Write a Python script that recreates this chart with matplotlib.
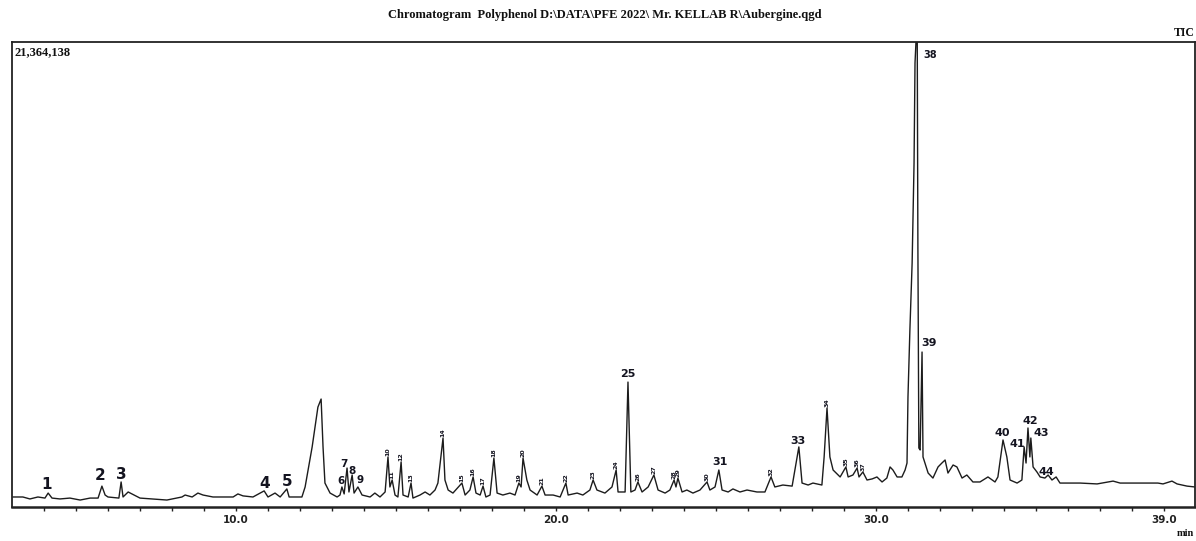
import numpy as np
import matplotlib.pyplot as plt

# TIC trace: retention time (min) and intensity (x 1e6 counts)
rt = [3.03, 3.34, 3.56, 3.81, 4.03, 4.13, 4.25, 4.50, 4.81, 5.13, 5.44, 5.69, 5.81, 5.91, 6.00,
      6.34, 6.41, 6.47, 6.63, 7.00, 7.84, 8.31, 8.41, 8.63, 8.81, 8.97, 9.28, 9.91, 10.06, 10.22,
      10.53, 10.88, 11.00, 11.22, 11.38, 11.59, 11.66, 12.06, 12.16, 12.38, 12.56, 12.66, 12.72,
      12.78, 12.94, 13.16, 13.25, 13.31, 13.38, 13.47, 13.53, 13.63, 13.69, 13.81, 13.94, 14.19,
      14.34, 14.50, 14.66, 14.75, 14.81, 14.88, 14.97, 15.06, 15.16, 15.22, 15.38, 15.47, 15.53,
      15.75, 15.91, 16.06, 16.22, 16.31, 16.47, 16.53, 16.63, 16.78, 17.06, 17.16, 17.31, 17.41,
      17.50, 17.63, 17.72, 17.81, 17.94, 18.06, 18.16, 18.34, 18.56, 18.72, 18.84, 18.91, 18.97,
      19.09, 19.19, 19.41, 19.56, 19.66, 19.91, 20.13, 20.31, 20.38, 20.66, 20.84, 21.06, 21.16,
      21.28, 21.53, 21.75, 21.88, 21.94, 22.16, 22.25, 22.34, 22.47, 22.56, 22.69, 22.88, 23.06,
      23.19, 23.41, 23.56, 23.69, 23.75, 23.81, 23.94, 24.09, 24.28, 24.50, 24.72, 24.81, 24.97,
      25.09, 25.19, 25.38, 25.53, 25.75, 25.97, 26.28, 26.53, 26.72, 26.84, 27.09, 27.38, 27.59,
      27.69, 27.88, 28.03, 28.31, 28.38, 28.47, 28.56, 28.66, 28.88, 29.06, 29.13, 29.28, 29.41,
      29.47, 29.59, 29.72, 29.88, 30.03, 30.19, 30.34, 30.44, 30.53, 30.66, 30.81, 30.91, 30.97,
      31.00, 31.06, 31.13, 31.19, 31.22, 31.25, 31.29, 31.31, 31.34, 31.38, 31.44, 31.47, 31.63,
      31.78, 31.94, 32.06, 32.16, 32.25, 32.41, 32.53, 32.69, 32.84, 33.03, 33.25, 33.50, 33.72,
      33.81, 33.97, 34.09, 34.19, 34.41, 34.56, 34.63, 34.69, 34.75, 34.81, 34.84, 34.91, 35.03,
      35.13, 35.28, 35.38, 35.50, 35.63, 35.75, 36.38, 36.91, 37.41, 37.63, 38.03, 38.47, 38.81,
      38.97, 39.25, 39.41, 39.72, 39.97]
intensity = [0.46, 0.46, 0.37, 0.46, 0.41, 0.64, 0.41, 0.37, 0.41, 0.32, 0.41, 0.41, 0.96, 0.55, 0.46,
             0.41, 1.15, 0.46, 0.69, 0.41, 0.32, 0.46, 0.55, 0.46, 0.64, 0.55, 0.46, 0.46, 0.60, 0.51,
             0.46, 0.74, 0.46, 0.64, 0.46, 0.83, 0.46, 0.46, 0.92, 2.76, 4.59, 4.96, 2.76,
             1.10, 0.64, 0.46, 0.55, 0.92, 0.60, 1.79, 0.69, 1.47, 0.64, 0.92, 0.55, 0.46,
             0.64, 0.46, 0.69, 2.30, 0.92, 1.24, 0.55, 0.46, 2.07, 0.55, 0.46, 1.10, 0.41,
             0.55, 0.69, 0.55, 0.78, 1.10, 3.17, 1.24, 0.78, 0.64, 1.10, 0.55, 0.78, 1.38,
             0.64, 0.55, 0.96, 0.46, 0.55, 2.25, 0.64, 0.55, 0.64, 0.55, 1.10, 0.92, 2.25,
             1.24, 0.78, 0.55, 0.96, 0.55, 0.55, 0.46, 1.10, 0.55, 0.64, 0.55, 0.78, 1.24,
             0.78, 0.64, 0.92, 1.70, 0.69, 0.69, 5.74, 0.69, 0.78, 1.15, 0.69, 0.92, 1.47,
             0.78, 0.64, 0.78, 1.24, 0.92, 1.33, 0.69, 0.78, 0.64, 0.78, 1.15, 0.78, 0.92,
             1.70, 0.78, 0.69, 0.83, 0.69, 0.78, 0.69, 0.69, 1.38, 0.92, 1.01, 0.96, 2.76,
             1.10, 1.01, 1.10, 1.01, 2.30, 4.55, 2.30, 1.70, 1.38, 1.84, 1.38, 1.47, 1.79,
             1.38, 1.61, 1.24, 1.29, 1.38, 1.15, 1.33, 1.84, 1.70, 1.38, 1.38, 1.70, 2.02,
             5.05, 8.13, 11.21, 15.80, 20.40, 21.36, 21.36, 12.00, 2.71, 2.62, 7.12, 2.30, 1.56,
             1.33, 1.84, 2.02, 2.16, 1.56, 1.93, 1.84, 1.33, 1.47, 1.15, 1.15, 1.38, 1.15,
             1.38, 3.08, 2.30, 1.24, 1.10, 1.24, 2.76, 2.02, 3.63, 2.30, 3.17, 1.84, 1.61,
             1.38, 1.33, 1.47, 1.24, 1.38, 1.10, 1.10, 1.06, 1.19, 1.10, 1.10, 1.10, 1.10,
             1.06, 1.19, 1.06, 0.96, 0.92]

# numbered peaks (retention time of apex)
peak_no = list(range(1, 45))
peak_rt = [4.13, 5.81, 6.41, 10.88, 11.59, 13.31, 13.47, 13.63, 13.81, 14.75, 14.88, 15.16, 15.47,
           16.47, 17.06, 17.41, 17.72, 18.06, 18.84, 18.97, 19.56, 20.31, 21.16, 21.88, 22.25, 22.56,
           23.06, 23.69, 23.81, 24.72, 25.09, 26.72, 27.59, 28.47, 29.06, 29.41, 29.59, 31.25, 31.44,
           33.97, 34.63, 34.75, 34.84, 35.38]

x_ticks = list(range(4, 40))
x_labels = {10: '10.0', 20: '20.0', 30: '30.0', 39: '39.0'}
y_max = 21.364138

fig = plt.figure(figsize=(11.96, 5.41), dpi=100)
ax = fig.add_axes([12 / 1196, 34 / 541, 1183 / 1196, 465 / 541])
ax.plot(rt, intensity, color='#1c1c1c', lw=1.0)
ax.set_xlim(3.0, 39.97)
ax.set_ylim(0, y_max)
ax.set_yticks([])
ax.set_xticks(x_ticks)
ax.set_xticklabels([x_labels.get(t, '') for t in x_ticks], fontsize=7.5, fontweight='bold',
                   family='DejaVu Sans', color='#222222')
ax.tick_params(axis='x', direction='out', length=3, width=1, pad=3, color='#222222')
for s in ax.spines.values():
    s.set_linewidth(1.3)
    s.set_color('#222222')
ax.spines['bottom'].set_linewidth(1.8)

# label styles: pixel offsets (dx, dy) from apex, size, rotated?
big = {1: (-2, 4), 2: (-2, 6), 3: (0, 3), 4: (0, 3), 5: (0, 3)}
mid = {6: (-1, 3), 7: (-3, 1), 8: (0, 1), 9: (2, 4)}
flat = {25: (0, 5, 'center'), 31: (1, 5, 'center'), 33: (-1, 3, 'center'), 39: (-1, 6, 'left'),
        40: (-1, 4, 'center'), 41: (1, 0, 'right'), 42: (2, 4, 'center'), 43: (3, 2, 'left'),
        44: (-2, 0, 'center')}
px = 0.72
for n, t in zip(peak_no, peak_rt):
    v = np.interp(t, rt, intensity)
    kw = dict(xy=(t, v), textcoords='offset points', family='DejaVu Sans', fontweight='bold',
              color='#141420')
    if n in big:
        dx, dy = big[n]
        ax.annotate(str(n), xytext=(dx * px, dy * px), ha='center', va='baseline', fontsize=11, **kw)
    elif n in mid:
        dx, dy = mid[n]
        ax.annotate(str(n), xytext=(dx * px, dy * px), ha='center', va='baseline', fontsize=7.5, **kw)
    elif n in flat:
        dx, dy, ha = flat[n]
        ax.annotate(str(n), xytext=(dx * px, dy * px), ha=ha, va='baseline', fontsize=8, **kw)
    elif n == 38:
        ax.annotate(str(n), xytext=(7 * px, -16 * px), ha='left', va='baseline', fontsize=7, **kw)
    else:
        ax.annotate(str(n), xytext=(0, 1 * px), ha='center', va='bottom', rotation=90,
                    fontsize=4.5, **kw)

ax.text(0.002, 0.992, '21,364,138', transform=ax.transAxes, ha='left', va='top',
        family='Liberation Serif', fontweight='bold', fontsize=9, color='#111111')
fig.text(605 / 1196, 1 - 15 / 541,
         'Chromatogram  Polyphenol D:\\DATA\\PFE 2022\\ Mr. KELLAB R\\Aubergine.qgd',
         ha='center', va='center', family='Liberation Serif', fontweight='bold', fontsize=9,
         color='#111111')
fig.text(1195 / 1196, 1 - 33 / 541, 'TIC', ha='right', va='center', family='Liberation Serif',
         fontweight='bold', fontsize=8.5, color='#111111')
fig.text(1194 / 1196, 1 - 534 / 541, 'min', ha='right', va='center', family='Liberation Serif',
         fontweight='bold', fontsize=7.5, color='#111111')

fig.savefig('out.png', dpi=100)
